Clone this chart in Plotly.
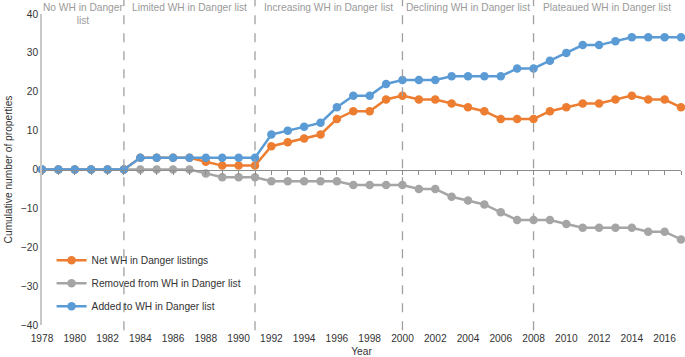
import plotly.graph_objects as go

years = list(range(1978, 2018))
net_listings = [0, 0, 0, 0, 0, 0,
                3, 3, 3, 3, 2, 1, 1, 1,
                6, 7, 8, 9, 13, 15, 15, 18, 19,
                18, 18, 17, 16, 15, 13, 13, 13,
                15, 16, 17, 17, 18, 19, 18, 18, 16]
removed = [0, 0, 0, 0, 0, 0,
           0, 0, 0, 0, -1, -2, -2, -2,
           -3, -3, -3, -3, -3, -4, -4, -4, -4,
           -5, -5, -7, -8, -9, -11, -13, -13,
           -13, -14, -15, -15, -15, -15, -16, -16, -18]
added = [0, 0, 0, 0, 0, 0,
         3, 3, 3, 3, 3, 3, 3, 3,
         9, 10, 11, 12, 16, 19, 19, 22, 23,
         23, 23, 24, 24, 24, 24, 26, 26,
         28, 30, 32, 32, 33, 34, 34, 34, 34]

phase_bounds = [1978, 1983, 1991, 2000, 2008, 2017]
phase_labels = ["No WH in Danger<br>list", "Limited WH in Danger list",
                "Increasing WH in Danger list", "Declining WH in Danger list",
                "Plateaued WH in Danger list"]

series = [
    ("Net WH in Danger listings", net_listings, "#ED7D31"),
    ("Removed from WH in Danger list", removed, "#A5A5A5"),
    ("Added to WH in Danger list", added, "#5B9BD5"),
]

FONT = "Liberation Sans, Arial, sans-serif"
FS = 10.2

fig = go.Figure()
for name, vals, col in series:
    fig.add_trace(go.Scatter(
        x=years, y=vals, name=name, mode="lines+markers",
        line=dict(color=col, width=2.5),
        marker=dict(color=col, size=8.5),
        cliponaxis=False, legendgroup=name,
    ))
# empty helper trace so the zero-line axis (xaxis2) is drawn
fig.add_trace(go.Scatter(x=[], y=[], xaxis="x2", showlegend=False,
                         hoverinfo="skip"))

# dashed phase separators
for b in phase_bounds[1:-1]:
    fig.add_shape(type="line", xref="x", yref="paper", x0=b, x1=b,
                  y0=-0.017, y1=1.05,
                  line=dict(color="#a0a0a0", width=1.3, dash="dash"))

# phase labels
for i, lab in enumerate(phase_labels):
    xm = (phase_bounds[i] + phase_bounds[i + 1]) / 2
    fig.add_annotation(x=xm, xref="x", y=1.045, yref="paper", yanchor="top",
                       text=lab, showarrow=False,
                       font=dict(family=FONT, size=FS, color="#9a9a9a"))

fig.update_layout(
    template="none",
    width=685, height=357,
    margin=dict(l=42, r=4, t=14, b=32, pad=0),
    paper_bgcolor="white", plot_bgcolor="white",
    font=dict(family=FONT, size=FS, color="#333333"),
    showlegend=True,
    legend=dict(x=0.015, y=0.255, xanchor="left", yanchor="top",
                bgcolor="rgba(0,0,0,0)", font=dict(size=FS, color="#333333"),
                tracegroupgap=4),
    xaxis=dict(range=[1978, 2017], tick0=1978, dtick=2, showgrid=False,
               zeroline=False, showline=False, ticks="", automargin=False,
               ticklabelstandoff=6,
               title=dict(text="Year", font=dict(size=FS), standoff=4),
               tickfont=dict(size=FS, color="#333333")),
    xaxis2=dict(range=[1978, 2017], overlaying="x", anchor="free", position=0.5,
                showline=True, linecolor="#8c8c8c", linewidth=1,
                ticks="outside", ticklen=4, tickcolor="#8c8c8c", tick0=1978,
                dtick=1, showticklabels=False, showgrid=False, zeroline=False,
                automargin=False),
    yaxis=dict(range=[-40, 40], dtick=10, showgrid=False, zeroline=False,
               showline=True, linecolor="#c8c8c8", linewidth=1.5, ticks="",
               automargin=False,
               title=dict(text="Cumulative number of properties",
                          font=dict(size=FS), standoff=6),
               tickfont=dict(size=FS, color="#333333")),
)

fig.write_html("out.html",
               config={"displayModeBar": False},
               post_script="document.body.style.margin='0';"
                           "document.body.style.overflow='hidden';")
